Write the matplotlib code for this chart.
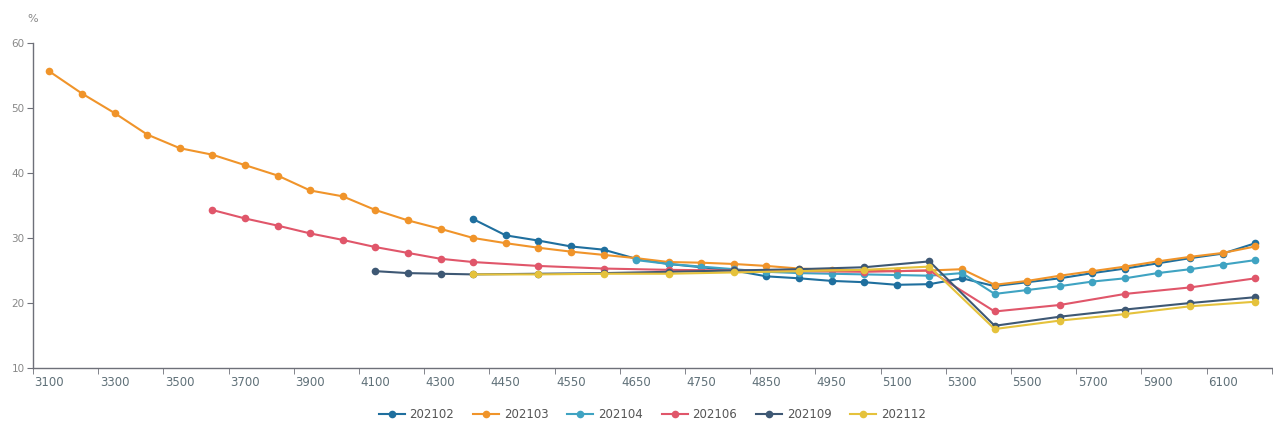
import numpy as np
import matplotlib
matplotlib.use("Agg")
import matplotlib.pyplot as plt

nan = np.nan

# categories on the x axis (price levels)
categories = ["3100", "3200", "3300", "3400", "3500", "3600", "3700", "3800", "3900", "4000",
              "4100", "4200", "4300", "4400", "4450", "4500", "4550", "4600", "4650", "4700",
              "4750", "4800", "4850", "4900", "4950", "5000", "5100", "5200", "5300", "5400",
              "5500", "5600", "5700", "5800", "5900", "6000", "6100", "6200"]

s202102 = [nan] * 13 + [32.9, 30.4, 29.6, 28.7, 28.2, 26.8, 26.0, 25.5, 25.0, 24.1, 23.8, 23.4,
                        23.2, 22.8, 22.9, 23.8, 22.6, 23.2, 23.8, 24.6, 25.3, 26.1, 26.9, 27.6, 29.2]

s202103 = [55.6, 52.2, 49.2, 45.9, 43.8, 42.8, 41.2, 39.6, 37.3, 36.4, 34.3, 32.7, 31.4, 30.0,
           29.2, 28.5, 27.9, 27.4, 26.9, 26.3, 26.2, 26.0, 25.7, 25.3, 25.1, 25.0, 24.9, 25.0,
           25.2, 22.8, 23.4, 24.2, 24.9, 25.6, 26.4, 27.1, 27.7, 28.7]

s202104 = [nan] * 18 + [26.6, 26.0, 25.6, 25.2, 24.8, 24.6, 24.5, 24.4, 24.3, 24.2, 24.6,
                        21.4, 22.0, 22.6, 23.3, 23.8, 24.6, 25.2, 25.9, 26.6]

s202106 = [nan] * 5 + [34.3, 33.0, 31.9, 30.7, 29.7, 28.6, 27.7, 26.8, 26.3,
                       nan, 25.7, nan, 25.3, nan, 25.1, nan, 25.0, nan, 24.9, nan, 24.8,
                       nan, 25.0, nan, 18.7, nan, 19.7, nan, 21.4, nan, 22.4, nan, 23.8]

s202109 = [nan] * 10 + [24.9, 24.6, 24.5, 24.4, nan, 24.5, nan, 24.6, nan, 24.8, nan, 25.0,
                        nan, 25.2, nan, 25.5, nan, 26.4, nan, 16.5, nan, 17.9, nan, 19.0,
                        nan, 20.0, nan, 20.9]

s202112 = [nan] * 13 + [24.4, nan, 24.4, nan, 24.5, nan, 24.5, nan, 24.7, nan, 24.9, nan,
                        25.1, nan, 25.6, nan, 16.0, nan, 17.3, nan, 18.3, nan, 19.5, nan, 20.2]

series = {
    "202102": (s202102, "#1f6f9e"),
    "202103": (s202103, "#f0942a"),
    "202104": (s202104, "#3fa3c2"),
    "202106": (s202106, "#e0566a"),
    "202109": (s202109, "#3e5874"),
    "202112": (s202112, "#e5c23c"),
}

axis_col = "#6e7079"
label_col = "#5f7078"

fig = plt.figure(figsize=(12.73, 4.28), dpi=100)
ax = fig.add_axes([0.026, 0.14, 0.973, 0.76])

x = np.arange(len(categories))
for name, (vals, col) in series.items():
    v = np.array(vals, dtype=float)
    m = ~np.isnan(v)
    ax.plot(x[m], v[m], color=col, lw=1.5, marker="o", markersize=5.5,
            markeredgewidth=0, label=name)

ax.set_xlim(-0.5, len(categories) - 0.5)
ax.set_ylim(10, 60)
ax.set_yticks([10, 20, 30, 40, 50, 60])

# labels at every other category, ticks at category boundaries
ax.set_xticks(x[::2])
ax.set_xticklabels(categories[::2])
ax.set_xticks(np.arange(-0.5, len(categories), 2), minor=True)
ax.tick_params(axis="x", which="major", length=0, pad=6, labelsize=8.5, labelcolor=label_col)
ax.tick_params(axis="x", which="minor", length=4, color=axis_col)
ax.tick_params(axis="y", length=4, color=axis_col, labelsize=7.5, labelcolor="#888888", pad=2)

for s in ["top", "right"]:
    ax.spines[s].set_visible(False)
for s in ["left", "bottom"]:
    ax.spines[s].set_color(axis_col)
    ax.spines[s].set_linewidth(1)

fig.text(0.026, 0.955, "%", fontsize=8, color="#888888", ha="center", va="center")

ax.legend(loc="upper center", bbox_to_anchor=(0.5, -0.09), ncol=6, frameon=False,
          fontsize=8.5, labelcolor="#555555", handlelength=2.2, columnspacing=1.6,
          handletextpad=0.4)

fig.savefig("out.png", dpi=100)
